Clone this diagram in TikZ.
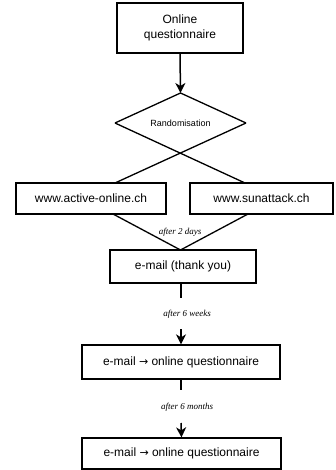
\documentclass[tikz,border=0pt]{standalone}
\usepackage{fontspec}
\setmainfont{Liberation Sans}
\newfontfamily\serifit{Liberation Serif}
\newfontfamily\arrowfont{DejaVu Sans}
\usetikzlibrary{arrows.meta}
\begin{document}
\begin{tikzpicture}[x=1pt,y=-1pt,
  box/.style={draw, line width=1.3pt, inner sep=0pt, align=center, font=\fontsize{12}{15}\selectfont},
  line/.style={line width=1.3pt},
  stub/.style={line width=2.2pt},
  arr/.style={line width=1.5pt, -{Stealth[length=10pt,width=10pt,inset=3pt]}},
  note/.style={font=\serifit\itshape\fontsize{9}{10}\selectfont, inner sep=0pt}]
\useasboundingbox (0,0) rectangle (335,470);
% boxes
\node[box, minimum width=126pt, minimum height=50pt] (oq) at (180,28) {Online\\questionnaire};
\node[box, minimum width=150pt, minimum height=31pt] (act) at (91,198.5) {www.active-online.ch};
\node[box, minimum width=143pt, minimum height=31pt] (sun) at (261.5,198.5) {www.sunattack.ch};
\node[box, minimum width=146pt, minimum height=33pt] (thx) at (183,266.5) {e-mail (thank you)};
\node[box, minimum width=198pt, minimum height=34pt] (q6w) at (181,362) {e-mail {\arrowfont\fontsize{11}{13}\selectfont →} online questionnaire};
\node[box, minimum width=199pt, minimum height=31pt] (q6m) at (181.5,453.5) {e-mail {\arrowfont\fontsize{11}{13}\selectfont →} online questionnaire};
% diamond
\coordinate (dT) at (180.5,93);
\coordinate (dL) at (115,123);
\coordinate (dR) at (246,123);
\node[font=\fontsize{9}{10}\selectfont, inner sep=0pt] (rand) at (180.5,123) {Randomisation};
\coordinate (sunIn) at (245,183);
\coordinate (actIn) at (115,183);
\draw[line, line join=miter] (dL) -- (dT) -- (dR);
\draw[line] (dL) -- (sunIn);
\draw[line] (dR) -- (actIn);
% merge
\coordinate (actOut) at (113,214);
\coordinate (sunOut) at (248,214);
\coordinate (thxIn) at (180.5,250);
\draw[line] (actOut) -- (thxIn) -- (sunOut);
\node[note] (n2d) at (180,232) {after 2 days};
% arrows
\draw[arr] (oq.south) -- (dT);
\coordinate (s1a) at (181,283);
\coordinate (s1b) at (181,298);
\draw[stub] (s1a) -- (s1b);
\node[note] (n6w) at (187,314) {after 6 weeks};
\coordinate (a1) at (181,329);
\draw[arr] (a1) -- (q6w.north);
\coordinate (s2a) at (181,379);
\coordinate (s2b) at (181,390);
\draw[stub] (s2a) -- (s2b);
\node[note] (n6m) at (187,407) {after 6 months};
\coordinate (a2) at (181,423);
\draw[arr] (a2) -- (q6m.north);
\end{tikzpicture}
\end{document}
